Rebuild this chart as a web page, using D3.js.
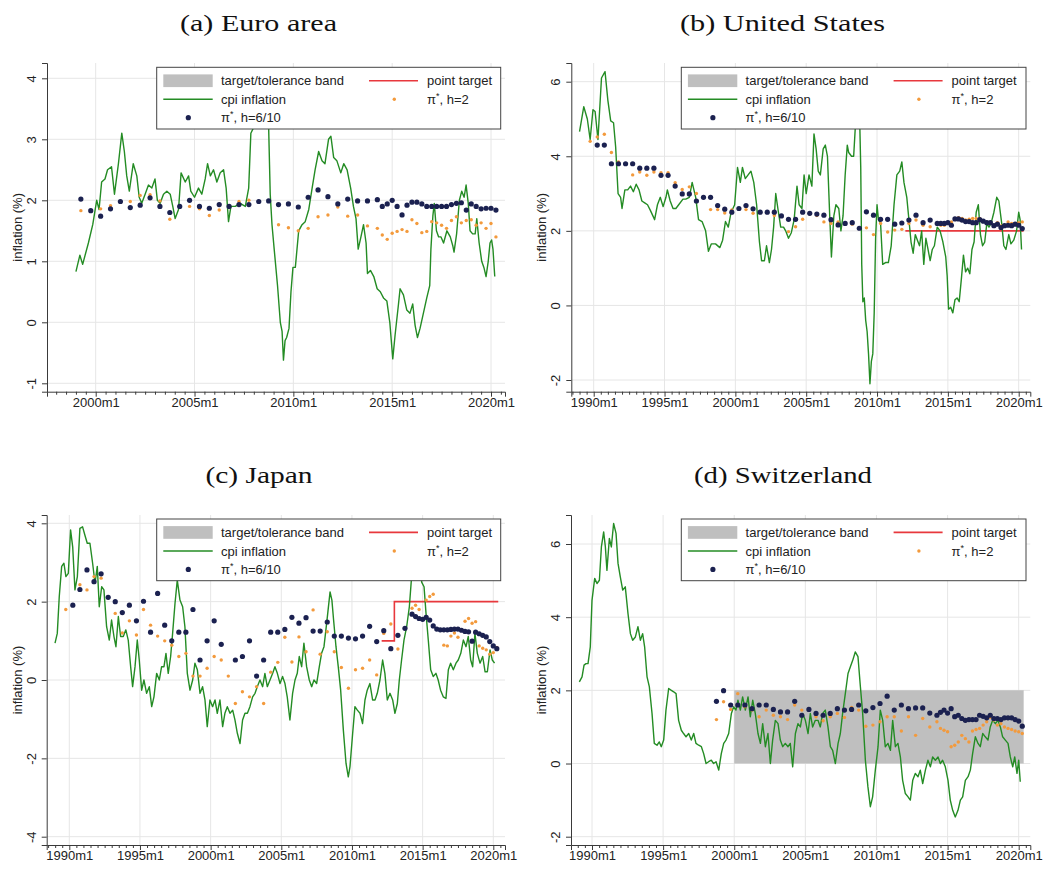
<!DOCTYPE html>
<html><head><meta charset="utf-8">
<script src="https://cdn.jsdelivr.net/npm/d3@7"></script>
<style>body{margin:0;background:#fff}svg{display:block}</style>
</head><body>
<svg id="chart" width="1044" height="871"></svg>
<script>
// ---------------- DATA ----------------
const panelTitles = ["(a) Euro area", "(b) United States", "(c) Japan", "(d) Switzerland"];
const legendLabels = ["target/tolerance band", "point target", "cpi inflation", "h=2", "h=6/10"];
const xTickYearsEA = [2000, 2005, 2010, 2015, 2020];
const xTickYears = [1990, 1995, 2000, 2005, 2010, 2015, 2020];
const yTicksEA = [-1, 0, 1, 2, 3, 4];
const yTicksUS = [-2, 0, 2, 4, 6];
const yTicksJP = [-4, -2, 0, 2, 4];
const yTicksCH = [-2, 0, 2, 4, 6];

// Euro area
const eaCpi = [[1999.0,0.83],[1999.2,1.1],[1999.34,0.95],[1999.63,1.3],[1999.85,1.6],[2000.05,2.0],[2000.17,1.85],[2000.3,2.3],[2000.47,2.35],[2000.6,2.5],[2000.8,2.55],[2000.95,2.1],[2001.15,2.6],[2001.32,3.1],[2001.45,2.8],[2001.57,2.4],[2001.7,2.15],[2001.9,2.6],[2002.08,2.4],[2002.2,2.05],[2002.33,1.95],[2002.5,2.1],[2002.67,2.25],[2002.84,2.2],[2003.0,2.35],[2003.12,2.0],[2003.26,1.95],[2003.43,2.1],[2003.6,2.15],[2003.77,2.1],[2003.9,1.9],[2004.02,1.7],[2004.19,1.85],[2004.32,2.45],[2004.53,2.3],[2004.7,2.4],[2004.81,2.15],[2005.0,2.05],[2005.2,2.2],[2005.37,2.1],[2005.54,2.35],[2005.66,2.6],[2005.8,2.4],[2005.96,2.5],[2006.13,2.3],[2006.3,2.45],[2006.47,2.5],[2006.6,2.2],[2006.72,1.65],[2006.84,1.9],[2007.06,1.9],[2007.31,1.95],[2007.57,1.9],[2007.74,2.2],[2007.85,3.1],[2008.0,3.2],[2008.15,3.3],[2008.33,3.6],[2008.5,4.0],[2008.67,3.8],[2008.75,3.2],[2008.83,2.1],[2008.92,1.6],[2009.03,1.2],[2009.2,0.6],[2009.34,0.0],[2009.43,-0.15],[2009.5,-0.62],[2009.58,-0.3],[2009.66,-0.25],[2009.78,-0.1],[2009.88,0.5],[2009.98,0.9],[2010.1,0.9],[2010.27,1.5],[2010.44,1.6],[2010.6,1.65],[2010.78,1.85],[2010.95,2.2],[2011.1,2.5],[2011.28,2.8],[2011.45,2.65],[2011.6,2.6],[2011.78,3.0],[2011.9,3.05],[2012.04,2.7],[2012.2,2.65],[2012.4,2.45],[2012.55,2.6],[2012.72,2.5],[2012.9,2.2],[2013.04,1.9],[2013.17,1.7],[2013.28,1.2],[2013.42,1.4],[2013.55,1.6],[2013.68,1.3],[2013.75,0.8],[2013.9,0.85],[2014.07,0.75],[2014.24,0.55],[2014.4,0.5],[2014.56,0.4],[2014.73,0.35],[2014.88,0.0],[2015.03,-0.6],[2015.15,-0.2],[2015.32,0.3],[2015.4,0.55],[2015.57,0.45],[2015.74,0.2],[2015.9,0.15],[2016.04,0.3],[2016.16,-0.05],[2016.28,-0.25],[2016.41,-0.1],[2016.58,0.15],[2016.75,0.4],[2016.9,0.6],[2016.96,1.2],[2017.06,1.75],[2017.13,1.95],[2017.24,1.5],[2017.35,1.4],[2017.47,1.4],[2017.6,1.3],[2017.77,1.5],[2017.94,1.4],[2018.07,1.25],[2018.13,1.15],[2018.26,1.45],[2018.4,2.0],[2018.52,2.15],[2018.64,2.05],[2018.74,2.25],[2018.85,1.95],[2018.94,1.5],[2019.07,1.45],[2019.2,1.45],[2019.28,1.7],[2019.4,1.3],[2019.53,1.0],[2019.64,0.9],[2019.75,0.75],[2019.86,1.0],[2019.95,1.3],[2020.03,1.35],[2020.1,1.2],[2020.19,0.75]];
const eaPiH2 = [[1999.25,1.83],[1999.75,1.83],[2000.25,1.86],[2000.75,1.91],[2001.25,1.97],[2001.75,1.98],[2002.25,2.08],[2002.75,2.09],[2003.25,1.99],[2003.75,1.69],[2004.25,1.9],[2004.75,1.9],[2005.25,1.86],[2005.75,1.75],[2006.25,1.84],[2006.75,1.88],[2007.25,1.98],[2007.75,2.0],[2008.25,1.98],[2008.75,1.99],[2009.25,1.6],[2009.75,1.55],[2010.25,1.5],[2010.75,1.54],[2011.25,1.73],[2011.75,1.76],[2012.25,1.89],[2012.75,1.74],[2013.25,1.76],[2013.75,1.58],[2014.25,1.54],[2014.5,1.43],[2014.75,1.36],[2015.0,1.46],[2015.25,1.49],[2015.5,1.52],[2015.75,1.49],[2016.0,1.68],[2016.25,1.62],[2016.5,1.47],[2016.75,1.49],[2017.0,1.65],[2017.25,1.63],[2017.5,1.59],[2017.75,1.54],[2018.0,1.67],[2018.25,1.73],[2018.5,1.63],[2018.75,1.67],[2019.0,1.68],[2019.25,1.59],[2019.5,1.63],[2019.75,1.54],[2020.0,1.62],[2020.25,1.4]];
const eaPiH6 = [[1999.25,2.02],[1999.75,1.83],[2000.25,1.74],[2000.75,1.86],[2001.25,1.98],[2001.75,1.88],[2002.25,1.92],[2002.75,2.04],[2003.25,1.9],[2003.75,1.8],[2004.25,1.9],[2004.75,2.0],[2005.25,1.9],[2005.75,1.87],[2006.25,1.93],[2006.75,1.9],[2007.25,1.93],[2007.75,1.93],[2008.25,1.98],[2008.75,1.99],[2009.25,1.93],[2009.75,1.94],[2010.25,1.89],[2010.75,2.05],[2011.25,2.17],[2011.75,2.06],[2012.25,1.94],[2012.75,2.02],[2013.25,1.99],[2013.75,1.99],[2014.25,2.01],[2014.5,1.9],[2014.75,1.94],[2015.0,2.0],[2015.25,1.9],[2015.5,1.76],[2015.75,1.92],[2016.0,1.97],[2016.25,1.97],[2016.5,1.94],[2016.75,1.9],[2017.0,1.9],[2017.25,1.9],[2017.5,1.9],[2017.75,1.9],[2018.0,1.93],[2018.25,1.95],[2018.5,1.96],[2018.75,1.84],[2019.0,1.94],[2019.25,1.9],[2019.5,1.86],[2019.75,1.87],[2020.0,1.87],[2020.25,1.84]];

// United States
const usCpi = [[1989.0,4.66],[1989.3,5.33],[1989.55,5.0],[1989.75,4.45],[1989.95,5.25],[1990.1,5.2],[1990.3,4.45],[1990.55,6.1],[1990.8,6.27],[1991.0,5.5],[1991.2,4.95],[1991.4,4.9],[1991.55,4.25],[1991.72,3.0],[1991.9,2.9],[1992.0,2.6],[1992.2,3.1],[1992.4,3.1],[1992.6,3.2],[1992.8,3.05],[1993.0,3.25],[1993.2,3.1],[1993.4,2.8],[1993.6,2.75],[1993.8,2.7],[1994.0,2.55],[1994.3,2.3],[1994.5,2.7],[1994.7,2.9],[1994.9,2.65],[1995.1,2.9],[1995.2,3.1],[1995.4,2.8],[1995.6,2.6],[1995.8,2.6],[1996.0,2.7],[1996.3,2.85],[1996.5,2.85],[1996.75,2.9],[1996.95,3.3],[1997.2,2.9],[1997.4,2.3],[1997.65,2.25],[1997.9,2.0],[1998.1,1.45],[1998.3,1.65],[1998.6,1.65],[1998.9,1.55],[1999.1,1.75],[1999.3,2.25],[1999.5,2.1],[1999.7,2.5],[1999.95,2.7],[2000.15,3.7],[2000.35,3.3],[2000.5,3.7],[2000.7,3.4],[2000.9,3.5],[2001.1,3.6],[2001.3,3.3],[2001.5,2.7],[2001.7,1.7],[2001.85,1.2],[2002.05,1.2],[2002.2,1.6],[2002.4,1.15],[2002.55,1.5],[2002.7,2.1],[2002.85,3.0],[2003.0,2.6],[2003.2,2.1],[2003.4,2.1],[2003.55,2.0],[2003.75,1.8],[2003.95,1.95],[2004.15,2.3],[2004.35,3.2],[2004.5,2.7],[2004.7,2.6],[2004.85,3.5],[2005.0,3.0],[2005.2,3.5],[2005.4,3.2],[2005.55,4.6],[2005.7,4.2],[2005.85,3.6],[2006.0,3.5],[2006.2,4.2],[2006.35,4.3],[2006.5,4.0],[2006.65,2.5],[2006.78,1.3],[2006.95,2.4],[2007.1,2.7],[2007.3,2.6],[2007.45,2.0],[2007.6,2.4],[2007.75,3.5],[2007.9,4.3],[2008.0,4.1],[2008.2,4.0],[2008.35,4.0],[2008.5,5.0],[2008.6,5.6],[2008.7,5.4],[2008.78,4.9],[2008.85,3.7],[2008.92,1.1],[2009.0,0.1],[2009.1,0.2],[2009.2,-0.4],[2009.3,-0.7],[2009.4,-1.3],[2009.5,-2.1],[2009.6,-1.5],[2009.7,-1.3],[2009.8,-0.2],[2009.9,1.8],[2010.0,2.7],[2010.1,2.3],[2010.25,2.2],[2010.4,1.1],[2010.6,1.15],[2010.8,1.15],[2011.0,1.6],[2011.2,2.7],[2011.4,3.5],[2011.6,3.6],[2011.75,3.85],[2011.9,3.3],[2012.1,2.9],[2012.25,2.3],[2012.4,1.7],[2012.55,1.4],[2012.7,1.9],[2012.85,1.75],[2013.0,1.6],[2013.15,2.0],[2013.3,1.1],[2013.45,1.8],[2013.6,1.5],[2013.75,1.2],[2013.9,1.5],[2014.05,1.6],[2014.25,2.1],[2014.45,2.0],[2014.65,1.7],[2014.85,1.3],[2014.95,0.8],[2015.05,-0.1],[2015.2,-0.05],[2015.35,-0.2],[2015.5,0.15],[2015.65,0.2],[2015.8,0.1],[2015.95,0.7],[2016.1,1.35],[2016.25,0.9],[2016.4,1.0],[2016.55,0.85],[2016.7,1.5],[2016.85,1.7],[2017.0,2.5],[2017.15,2.7],[2017.3,1.9],[2017.45,1.6],[2017.6,1.7],[2017.75,2.2],[2017.9,2.1],[2018.05,2.2],[2018.25,2.5],[2018.45,2.9],[2018.6,2.8],[2018.8,2.2],[2018.95,1.6],[2019.1,1.5],[2019.3,1.9],[2019.45,1.65],[2019.65,1.75],[2019.85,2.0],[2020.0,2.5],[2020.1,2.3],[2020.2,1.5]];
const usPiH2 = [[1989.75,4.4],[1990.25,4.52],[1990.75,4.59],[1991.25,4.1],[1991.75,3.85],[1992.25,3.8],[1992.75,3.5],[1993.25,3.58],[1993.75,3.49],[1994.25,3.58],[1994.75,3.56],[1995.25,3.56],[1995.75,3.29],[1996.25,3.11],[1996.75,3.18],[1997.25,3.0],[1997.75,2.9],[1998.25,2.57],[1998.75,2.57],[1999.25,2.48],[1999.75,2.56],[2000.25,2.59],[2000.75,2.57],[2001.25,2.47],[2001.75,2.49],[2002.25,2.49],[2002.75,2.41],[2003.25,2.4],[2003.75,1.98],[2004.25,2.11],[2004.75,2.31],[2005.25,2.45],[2005.75,2.41],[2006.25,2.24],[2006.75,2.2],[2007.25,2.24],[2007.75,2.18],[2008.25,2.18],[2008.75,2.06],[2009.25,2.08],[2009.75,1.9],[2010.25,2.2],[2010.75,1.97],[2011.25,2.02],[2011.75,2.04],[2012.25,2.2],[2012.75,2.29],[2013.25,2.15],[2013.75,2.11],[2014.25,2.18],[2014.5,2.15],[2014.75,2.15],[2015.0,2.2],[2015.25,2.24],[2015.5,2.33],[2015.75,2.35],[2016.0,2.33],[2016.25,2.29],[2016.5,2.31],[2016.75,2.33],[2017.0,2.33],[2017.25,2.33],[2017.5,2.27],[2017.75,2.24],[2018.0,2.2],[2018.25,2.15],[2018.5,2.22],[2018.75,2.13],[2019.0,2.15],[2019.25,2.24],[2019.5,2.2],[2019.75,2.18],[2020.0,2.22],[2020.25,2.24]];
const usPiH6 = [[1990.25,4.3],[1990.75,4.3],[1991.25,3.8],[1991.75,3.8],[1992.25,3.8],[1992.75,3.8],[1993.25,3.68],[1993.75,3.68],[1994.25,3.68],[1994.75,3.49],[1995.25,3.49],[1995.75,3.2],[1996.25,2.99],[1996.75,2.99],[1997.25,2.8],[1997.75,2.9],[1998.25,2.9],[1998.75,2.68],[1999.25,2.58],[1999.75,2.5],[2000.25,2.6],[2000.75,2.68],[2001.25,2.59],[2001.75,2.5],[2002.25,2.5],[2002.75,2.5],[2003.25,2.4],[2003.75,2.31],[2004.25,2.31],[2004.75,2.5],[2005.25,2.47],[2005.75,2.45],[2006.25,2.42],[2006.75,2.3],[2007.25,2.16],[2007.75,2.2],[2008.25,2.22],[2008.75,2.07],[2009.25,2.51],[2009.75,2.42],[2010.25,2.31],[2010.75,2.31],[2011.25,2.18],[2011.75,2.21],[2012.25,2.29],[2012.75,2.42],[2013.25,2.22],[2013.75,2.29],[2014.25,2.2],[2014.5,2.2],[2014.75,2.2],[2015.0,2.22],[2015.25,2.15],[2015.5,2.32],[2015.75,2.32],[2016.0,2.29],[2016.25,2.25],[2016.5,2.25],[2016.75,2.22],[2017.0,2.22],[2017.25,2.3],[2017.5,2.26],[2017.75,2.22],[2018.0,2.22],[2018.25,2.14],[2018.5,2.18],[2018.75,2.09],[2019.0,2.14],[2019.25,2.15],[2019.5,2.14],[2019.75,2.18],[2020.0,2.15],[2020.25,2.06]];
const usTarget = [[2012.0,2],[2020.35,2]];

// Japan
const jpCpi = [[1988.99,0.94],[1989.15,1.19],[1989.29,2.13],[1989.46,2.9],[1989.62,2.98],[1989.76,2.64],[1989.93,2.72],[1990.09,3.83],[1990.24,3.4],[1990.4,2.3],[1990.57,2.64],[1990.75,3.87],[1990.94,3.91],[1991.1,3.7],[1991.27,3.49],[1991.46,3.49],[1991.65,2.98],[1991.82,2.47],[1991.98,2.9],[1992.12,1.87],[1992.29,2.38],[1992.45,2.3],[1992.64,1.36],[1992.83,1.02],[1992.99,1.53],[1993.16,1.11],[1993.3,0.85],[1993.47,1.62],[1993.63,1.11],[1993.82,1.11],[1994.0,1.28],[1994.17,1.02],[1994.34,0.34],[1994.48,-0.17],[1994.65,0.34],[1994.81,1.02],[1994.95,0.51],[1995.12,-0.26],[1995.28,0.0],[1995.47,-0.34],[1995.66,-0.17],[1995.83,-0.68],[1995.99,-0.43],[1996.18,0.17],[1996.37,0.0],[1996.53,0.34],[1996.7,0.34],[1996.84,0.68],[1997.0,0.17],[1997.17,0.6],[1997.31,1.19],[1997.48,1.96],[1997.64,2.55],[1997.83,2.04],[1998.02,1.87],[1998.18,1.36],[1998.35,0.17],[1998.54,-0.26],[1998.73,0.0],[1998.89,0.43],[1999.06,0.26],[1999.25,-0.34],[1999.43,-0.17],[1999.6,-0.51],[1999.76,-1.19],[1999.95,-0.51],[2000.14,-0.68],[2000.31,-0.51],[2000.47,-0.85],[2000.66,-0.51],[2000.85,-1.19],[2001.01,-0.85],[2001.18,-0.68],[2001.37,-0.85],[2001.56,-0.77],[2001.72,-1.02],[2001.89,-1.36],[2002.08,-1.62],[2002.26,-1.02],[2002.43,-0.85],[2002.6,-0.85],[2002.78,-0.68],[2002.97,-0.43],[2003.14,-0.34],[2003.3,-0.17],[2003.49,0.0],[2003.68,-0.17],[2003.84,0.17],[2004.01,-0.17],[2004.2,0.0],[2004.39,0.17],[2004.55,0.34],[2004.72,0.17],[2004.91,-0.09],[2005.09,0.09],[2005.26,-0.09],[2005.42,-0.43],[2005.61,-1.02],[2005.8,-0.34],[2005.97,0.0],[2006.13,0.17],[2006.27,0.6],[2006.44,0.34],[2006.6,0.94],[2006.79,0.34],[2006.98,0.0],[2007.15,-0.17],[2007.31,0.0],[2007.5,-0.09],[2007.69,0.34],[2007.85,0.68],[2008.02,0.85],[2008.21,1.45],[2008.45,2.25],[2008.58,2.04],[2008.7,1.53],[2008.87,0.85],[2009.03,0.34],[2009.2,-0.26],[2009.39,-1.28],[2009.58,-2.13],[2009.74,-2.47],[2009.86,-2.21],[2010.05,-1.36],[2010.21,-0.68],[2010.38,-0.77],[2010.57,-0.85],[2010.75,-1.11],[2010.92,-0.51],[2011.08,-0.26],[2011.27,-0.09],[2011.46,-0.51],[2011.63,-0.51],[2011.79,-0.34],[2011.98,0.0],[2012.17,0.51],[2012.33,0.17],[2012.5,-0.51],[2012.69,-0.34],[2012.88,-0.51],[2013.04,-0.85],[2013.21,-0.6],[2013.35,0.0],[2013.51,0.51],[2013.68,1.02],[2013.87,1.36],[2014.06,1.87],[2014.22,2.64],[2014.33,3.4],[2014.45,3.7],[2014.6,3.4],[2014.8,3.3],[2014.93,2.5],[2015.1,2.38],[2015.24,1.7],[2015.4,1.02],[2015.57,0.26],[2015.75,0.09],[2015.94,0.17],[2016.1,0.0],[2016.27,-0.26],[2016.46,-0.43],[2016.65,-0.47],[2016.82,0.26],[2016.98,0.43],[2017.17,0.26],[2017.36,0.43],[2017.52,0.51],[2017.7,0.68],[2017.88,1.02],[2018.07,0.85],[2018.23,1.11],[2018.4,0.51],[2018.54,0.34],[2018.7,1.19],[2018.87,0.68],[2019.06,0.43],[2019.25,0.6],[2019.42,0.21],[2019.58,0.21],[2019.77,0.77],[2019.93,0.51],[2020.09,0.43]];
const jpPiH2 = [[1989.75,1.8],[1990.25,1.9],[1990.75,2.43],[1991.25,2.3],[1991.75,2.64],[1992.25,2.6],[1992.75,2.1],[1993.25,1.7],[1993.75,1.2],[1994.25,1.51],[1994.75,1.15],[1995.25,1.8],[1995.75,1.4],[1996.25,1.12],[1996.75,1.0],[1997.25,0.89],[1997.75,0.6],[1998.25,0.68],[1998.75,0.1],[1999.25,0.1],[1999.75,0.3],[2000.25,0.6],[2000.75,0.51],[2001.25,0.1],[2001.75,-0.6],[2002.25,-0.3],[2002.75,-0.43],[2003.25,-0.17],[2003.75,-0.6],[2004.25,0.2],[2004.75,0.45],[2005.25,1.09],[2005.75,0.46],[2006.25,1.1],[2006.75,0.72],[2007.25,1.79],[2007.75,0.66],[2008.25,1.23],[2008.75,0.72],[2009.25,0.32],[2009.75,-0.21],[2010.25,0.26],[2010.75,0.3],[2011.25,0.51],[2011.75,0.13],[2012.25,1.19],[2012.75,1.43],[2013.25,0.79],[2014.25,1.83],[2014.5,1.91],[2014.75,1.8],[2015.25,2.04],[2015.5,2.13],[2015.75,2.19],[2016.5,0.89],[2016.75,0.87],[2017.0,1.12],[2017.25,1.2],[2017.5,1.09],[2018.0,1.5],[2018.25,1.57],[2018.5,1.45],[2018.75,1.49],[2019.0,0.87],[2019.25,0.81],[2019.5,0.77],[2019.75,0.66],[2020.0,0.7],[2020.25,0.83]];
const jpPiH6 = [[1990.25,1.91],[1990.75,2.31],[1991.25,2.81],[1991.75,2.51],[1992.25,2.71],[1992.75,2.11],[1993.25,2.0],[1993.75,1.72],[1994.25,1.91],[1994.75,1.51],[1995.25,2.01],[1995.75,1.22],[1996.25,2.21],[1996.75,1.4],[1997.25,1.0],[1997.75,1.22],[1998.25,1.22],[1998.75,1.8],[1999.25,0.51],[1999.75,1.0],[2000.25,1.51],[2000.75,0.91],[2001.75,0.51],[2002.25,0.6],[2002.75,1.0],[2003.25,0.1],[2003.75,0.51],[2004.25,1.22],[2004.75,1.22],[2005.25,1.29],[2005.75,1.6],[2006.25,1.45],[2006.75,1.59],[2007.25,1.25],[2007.75,1.25],[2008.25,1.48],[2008.75,1.12],[2009.25,1.12],[2009.75,1.07],[2010.25,1.05],[2010.75,1.12],[2011.25,1.37],[2011.75,0.98],[2012.25,1.26],[2012.75,0.8],[2013.25,1.14],[2013.75,1.32],[2014.25,1.68],[2014.5,1.62],[2014.75,1.57],[2015.0,1.55],[2015.25,1.6],[2015.5,1.53],[2015.75,1.38],[2016.0,1.3],[2016.25,1.28],[2016.5,1.28],[2016.75,1.28],[2017.0,1.29],[2017.25,1.3],[2017.5,1.3],[2017.75,1.27],[2018.0,1.24],[2018.25,1.23],[2018.5,0.99],[2018.75,1.22],[2019.0,1.18],[2019.25,1.14],[2019.5,1.1],[2019.75,0.98],[2020.0,0.87],[2020.25,0.8]];
const jpTarget = [[2012.1,1],[2013.0,2],[2020.35,2]];

// Switzerland
const chCpi = [[1989.11,2.23],[1989.3,2.37],[1989.44,2.69],[1989.58,2.73],[1989.72,2.73],[1989.88,3.19],[1990.0,4.46],[1990.19,5.06],[1990.35,4.92],[1990.52,5.01],[1990.66,5.92],[1990.82,6.33],[1990.94,5.92],[1991.05,5.28],[1991.22,6.15],[1991.36,5.92],[1991.52,6.56],[1991.69,6.29],[1991.83,5.47],[1991.99,5.1],[1992.16,4.74],[1992.34,4.83],[1992.53,4.1],[1992.7,3.55],[1992.86,3.37],[1993.05,3.46],[1993.23,3.74],[1993.4,3.37],[1993.56,3.55],[1993.7,3.19],[1993.87,2.37],[1994.03,2.1],[1994.22,1.37],[1994.38,0.55],[1994.57,0.5],[1994.73,0.59],[1994.87,0.46],[1995.04,0.64],[1995.2,1.46],[1995.39,2.05],[1995.58,2.0],[1995.74,1.96],[1995.91,1.91],[1996.09,1.18],[1996.28,0.91],[1996.44,0.82],[1996.61,0.73],[1996.8,0.82],[1996.98,0.64],[1997.15,0.82],[1997.31,0.55],[1997.5,0.5],[1997.69,0.46],[1997.85,0.27],[1998.02,0.0],[1998.2,0.05],[1998.39,0.09],[1998.55,0.0],[1998.72,0.05],[1998.91,-0.18],[1999.09,0.27],[1999.26,0.55],[1999.42,0.64],[1999.61,0.82],[1999.8,1.37],[1999.96,1.55],[2000.12,1.46],[2000.26,1.73],[2000.43,1.46],[2000.59,1.82],[2000.78,1.46],[2000.97,1.82],[2001.13,1.28],[2001.3,1.73],[2001.48,1.37],[2001.67,0.82],[2001.84,0.55],[2002.0,1.09],[2002.19,0.46],[2002.37,0.82],[2002.54,0.0],[2002.7,0.64],[2002.89,1.18],[2003.08,1.09],[2003.24,0.64],[2003.41,0.46],[2003.59,0.55],[2003.78,0.46],[2003.94,0.55],[2004.11,-0.09],[2004.3,0.82],[2004.48,1.09],[2004.65,1.0],[2004.81,1.37],[2005.0,1.18],[2005.19,0.82],[2005.35,1.37],[2005.51,1.0],[2005.7,1.18],[2005.89,1.18],[2006.05,1.0],[2006.22,1.37],[2006.4,1.46],[2006.59,1.0],[2006.76,0.46],[2006.92,0.36],[2007.11,0.0],[2007.3,0.55],[2007.46,0.82],[2007.62,1.37],[2007.81,1.91],[2008.0,2.46],[2008.16,2.64],[2008.33,2.82],[2008.51,3.05],[2008.7,2.92],[2008.87,2.1],[2009.03,1.37],[2009.22,0.09],[2009.4,-0.64],[2009.57,-1.18],[2009.73,-0.91],[2009.92,-0.18],[2010.11,0.46],[2010.27,1.46],[2010.44,1.18],[2010.62,0.46],[2010.81,0.55],[2010.98,0.36],[2011.14,1.18],[2011.33,0.46],[2011.51,0.55],[2011.68,0.18],[2011.84,-0.46],[2012.03,-0.82],[2012.22,-0.91],[2012.38,-1.0],[2012.55,-0.46],[2012.73,-0.27],[2012.92,-0.36],[2013.08,-0.18],[2013.25,-0.55],[2013.44,-0.18],[2013.62,0.09],[2013.79,-0.09],[2013.95,0.18],[2014.14,0.09],[2014.33,0.18],[2014.49,0.0],[2014.65,0.09],[2014.84,-0.09],[2015.03,-0.46],[2015.19,-1.0],[2015.36,-1.28],[2015.54,-1.46],[2015.73,-1.28],[2015.9,-1.0],[2016.06,-0.91],[2016.25,-0.46],[2016.44,-0.36],[2016.6,-0.18],[2016.76,0.27],[2016.95,0.73],[2017.14,0.55],[2017.3,0.46],[2017.47,0.82],[2017.65,0.73],[2017.84,0.64],[2018.0,1.0],[2018.17,1.18],[2018.36,1.09],[2018.54,1.18],[2018.71,1.0],[2018.87,0.73],[2019.06,0.64],[2019.25,0.55],[2019.41,0.18],[2019.58,-0.09],[2019.72,0.18],[2019.88,-0.27],[2020.0,0.09],[2020.11,-0.5]];
const chPiH2 = [[1998.75,1.2],[1999.25,1.69],[1999.75,1.48],[2000.25,1.91],[2000.75,1.55],[2001.25,1.46],[2001.75,1.28],[2002.25,1.46],[2002.75,1.32],[2003.25,1.28],[2003.75,1.2],[2004.25,1.6],[2004.75,1.46],[2005.25,1.5],[2005.75,1.28],[2006.25,1.17],[2006.75,1.28],[2007.25,1.37],[2007.75,1.26],[2008.25,1.53],[2008.75,1.46],[2009.25,1.02],[2009.75,1.05],[2010.25,1.14],[2010.75,1.28],[2011.25,1.28],[2011.75,0.89],[2012.25,1.28],[2012.75,0.77],[2013.25,1.23],[2013.75,1.0],[2014.25,1.14],[2014.5,0.96],[2014.75,0.91],[2015.0,0.87],[2015.25,0.46],[2015.5,0.5],[2015.75,0.59],[2016.0,0.77],[2016.25,0.68],[2016.5,0.59],[2016.75,0.89],[2017.0,0.93],[2017.25,0.96],[2017.5,1.05],[2017.75,1.14],[2018.0,1.26],[2018.25,1.19],[2018.5,1.05],[2018.75,1.09],[2019.0,1.0],[2019.25,0.96],[2019.5,0.93],[2019.75,0.89],[2020.0,0.87],[2020.25,0.82]];
const chPiH6 = [[1998.75,1.7],[1999.25,1.99],[1999.75,1.6],[2000.25,1.6],[2000.75,1.6],[2001.25,1.5],[2001.75,1.6],[2002.25,1.6],[2002.75,1.48],[2003.25,1.41],[2003.75,1.41],[2004.25,1.7],[2004.75,1.32],[2005.25,1.48],[2005.75,1.37],[2006.25,1.32],[2006.75,1.37],[2007.25,1.5],[2007.75,1.46],[2008.25,1.48],[2008.75,1.6],[2009.25,1.44],[2009.75,1.53],[2010.25,1.64],[2010.75,1.84],[2011.25,1.46],[2011.75,1.6],[2012.25,1.5],[2012.75,1.52],[2013.25,1.52],[2013.75,1.38],[2014.25,1.32],[2014.5,1.4],[2014.75,1.46],[2015.0,1.38],[2015.25,1.5],[2015.5,1.28],[2015.75,1.32],[2016.0,1.23],[2016.25,1.18],[2016.5,1.2],[2016.75,1.2],[2017.0,1.2],[2017.25,1.32],[2017.5,1.29],[2017.75,1.25],[2018.0,1.32],[2018.25,1.23],[2018.5,1.23],[2018.75,1.2],[2019.0,1.25],[2019.25,1.25],[2019.5,1.25],[2019.75,1.2],[2020.0,1.16],[2020.25,1.02]];
const chBand = [[2000.0,0,2],[2020.35,0,2]];

// ---------------- STYLE / LAYOUT ----------------
const C = {green:"#248c24", navy:"#1b2150", orange:"#f39a3c", red:"#e8383d", band:"#bfbfbf", grid:"#e6e6e6", axis:"#3a3a3a", text:"#222"};
const SANS = "'Liberation Sans', Arial, sans-serif";
const SERIF = "'Liberation Serif', 'Times New Roman', serif";

const panels = [
  {title:panelTitles[0], tx:258.5, ty:31, tw:157, box:[47,63,505,391.7], xa:[2000,2020,95.7,491], ya:[-1,4,383.3,78.3],
   xt:xTickYearsEA, yt:yTicksEA, cpi:eaCpi, h2:eaPiH2, h6:eaPiH6, leg:[156.7,67.3,500.7,129]},
  {title:panelTitles[1], tx:782.5, ty:31, tw:205, box:[571.3,63,1030.3,391.7], xa:[1990,2020,593.7,1018.7], ya:[-2,6,380,81.7],
   xt:xTickYears, yt:yTicksUS, cpi:usCpi, h2:usPiH2, h6:usPiH6, target:usTarget, leg:[681.3,67.3,1026,129]},
  {title:panelTitles[2], tx:259, ty:483, tw:107, box:[46.7,515,505,845], xa:[1990,2020,69.3,493.3], ya:[-4,4,836.7,523.3],
   xt:xTickYears, yt:yTicksJP, cpi:jpCpi, h2:jpPiH2, h6:jpPiH6, target:jpTarget, leg:[156.7,519,500.7,580.7]},
  {title:panelTitles[3], tx:783, ty:483, tw:178, box:[571,515,1030.3,845], xa:[1990,2020,592,1018.7], ya:[-2,6,836.7,544],
   xt:xTickYears, yt:yTicksCH, cpi:chCpi, h2:chPiH2, h6:chPiH6, band:chBand, leg:[681.3,519,1026,580.7]}
];

const svg = d3.select("#chart");

function drawPanel(p) {
  const [L,T,R,B] = p.box;
  const x0 = d3.scaleLinear().domain([p.xa[0],p.xa[1]]).range([p.xa[2],p.xa[3]]);
  const y0 = d3.scaleLinear().domain([p.ya[0],p.ya[1]]).range([p.ya[2],p.ya[3]]);
  const x = d3.scaleLinear().domain([x0.invert(L), x0.invert(R)]).range([L,R]);
  const y = d3.scaleLinear().domain([y0.invert(B), y0.invert(T)]).range([B,T]);
  const g = svg.append("g");

  // title
  g.append("text").attr("x",p.tx).attr("y",p.ty).attr("text-anchor","middle")
    .attr("font-family",SERIF).attr("font-size",23).attr("fill","#111")
    .attr("textLength",p.tw).attr("lengthAdjust","spacingAndGlyphs").text(p.title);

  // grid
  const grid = g.append("g").attr("stroke",C.grid).attr("stroke-width",1);
  grid.selectAll("line.v").data(p.xt).join("line").attr("class","v")
    .attr("x1",d=>x(d)).attr("x2",d=>x(d)).attr("y1",T).attr("y2",B);
  grid.selectAll("line.h").data(p.yt).join("line").attr("class","h")
    .attr("x1",L).attr("x2",R).attr("y1",d=>y(d)).attr("y2",d=>y(d));

  if (p.band) {
    g.append("path").datum(p.band).attr("fill",C.band)
      .attr("d", d3.area().x(d=>x(d[0])).y0(d=>y(d[1])).y1(d=>y(d[2])));
  }
  if (p.target) {
    g.append("path").datum(p.target).attr("fill","none").attr("stroke",C.red).attr("stroke-width",1.6)
      .attr("d", d3.line().curve(d3.curveStepAfter).x(d=>x(d[0])).y(d=>y(d[1])));
  }
  g.append("path").datum(p.cpi).attr("fill","none").attr("stroke",C.green).attr("stroke-width",1.4)
    .attr("stroke-linejoin","round").attr("d", d3.line().x(d=>x(d[0])).y(d=>y(d[1])));
  g.append("g").selectAll("circle").data(p.h2).join("circle")
    .attr("cx",d=>x(d[0])).attr("cy",d=>y(d[1])).attr("r",1.7).attr("fill",C.orange);
  g.append("g").selectAll("circle").data(p.h6).join("circle")
    .attr("cx",d=>x(d[0])).attr("cy",d=>y(d[1])).attr("r",2.6).attr("fill",C.navy);

  // x axis
  const xMajor = d3.axisBottom(x).tickValues(p.xt).tickSize(5).tickFormat(d=>d+"m1");
  const minorVals = d3.range(Math.ceil(x.domain()[0]*2)/2, x.domain()[1], 0.5).filter(v=>!p.xt.includes(v));
  const xMinor = d3.axisBottom(x).tickValues(minorVals).tickSize(3).tickFormat("");
  const xa = g.append("g").attr("transform",`translate(0,${B})`).call(xMajor);
  g.append("g").attr("transform",`translate(0,${B})`).call(xMinor).select(".domain").remove();
  xa.selectAll("text").attr("font-family",SANS).attr("font-size",13).attr("fill",C.text).attr("dy",null).attr("y",15);
  g.selectAll(".domain, .tick line").attr("stroke",C.axis);

  // y axis
  const ya = g.append("g").attr("transform",`translate(${L},0)`)
    .call(d3.axisLeft(y).tickValues(p.yt).tickSize(5).tickFormat(d=>String(d)));
  ya.selectAll(".domain, .tick line").attr("stroke",C.axis);
  ya.selectAll("text").attr("font-family",SANS).attr("font-size",13).attr("fill",C.text)
    .attr("x",null).attr("dy",null).attr("text-anchor","middle")
    .attr("transform","translate(-11,0) rotate(-90)");
  g.append("text").attr("transform",`translate(${L-25},${(T+B)/2}) rotate(-90)`)
    .attr("text-anchor","middle").attr("font-family",SANS).attr("font-size",13).attr("fill",C.text)
    .text("inflation (%)");

  drawLegend(g, p.leg);
}

function piLabel(t, sub) {
  t.append("tspan").text("π");
  t.append("tspan").attr("dy",-5).attr("font-size",9).text("*");
  t.append("tspan").attr("dy",5).text(", " + sub);
}

function drawLegend(g, b) {
  const [X0,Y0,X1,Y1] = b;
  const lg = g.append("g");
  lg.append("rect").attr("x",X0).attr("y",Y0).attr("width",X1-X0).attr("height",Y1-Y0)
    .attr("fill","#fff").attr("stroke","#444").attr("stroke-width",1);
  const r1 = Y0+13.4, r2 = Y0+32, r3 = Y0+50.4;
  const txt = (xx, yy) => lg.append("text").attr("x",xx).attr("y",yy+4.6)
    .attr("font-family",SANS).attr("font-size",13).attr("fill",C.text);
  lg.append("rect").attr("x",X0+6.6).attr("y",r1-6.3).attr("width",49.4).attr("height",12.7).attr("fill",C.band);
  txt(X0+64.3, r1).text(legendLabels[0]);
  lg.append("line").attr("x1",X0+212.3).attr("x2",X0+261.3).attr("y1",r1).attr("y2",r1).attr("stroke",C.red).attr("stroke-width",1.6);
  txt(X0+270.3, r1).text(legendLabels[1]);
  lg.append("line").attr("x1",X0+6.6).attr("x2",X0+56).attr("y1",r2).attr("y2",r2).attr("stroke",C.green).attr("stroke-width",1.4);
  txt(X0+64.3, r2).text(legendLabels[2]);
  lg.append("circle").attr("cx",X0+237.6).attr("cy",r2).attr("r",1.7).attr("fill",C.orange);
  piLabel(txt(X0+270.3, r2), legendLabels[3]);
  lg.append("circle").attr("cx",X0+31.6).attr("cy",r3).attr("r",2.6).attr("fill",C.navy);
  piLabel(txt(X0+64.3, r3), legendLabels[4]);
}

panels.forEach(drawPanel);
</script>
</body></html>
